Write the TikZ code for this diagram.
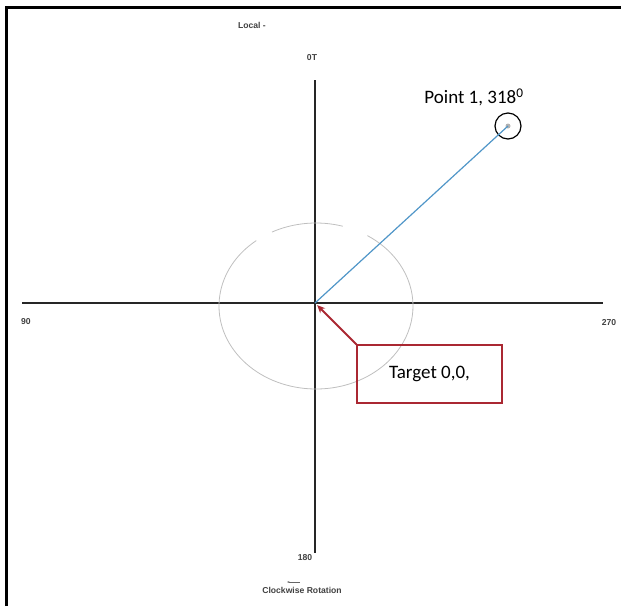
\documentclass[tikz,border=0pt]{standalone}
\usepackage{fontspec}
\setmainfont{Carlito}
\newfontfamily\axisfont{Liberation Sans}
\usetikzlibrary{arrows.meta}
\definecolor{sketchRay}{RGB}{80,150,200}
\definecolor{sketchNote}{RGB}{170,40,50}
\begin{document}
\begin{tikzpicture}[x=1pt, y=1pt,
  axislbl/.style={font=\axisfont\bfseries\fontsize{8.6}{9}\selectfont, text=black!75, inner sep=0pt},
  calloutlbl/.style={font=\fontsize{19}{22}\selectfont, inner sep=0pt},
  ring/.style={draw=\sketchRingColor, line width=\sketchRingWidth},
  axisline/.style={draw=\sketchAxisColor, line width=\sketchAxisWidth}]
% Polar sketch, positions taken in pixels (y negative)
\def\rx{97}
\def\ry{83}
\providecommand{\sketchAxisColor}{black!85}
\providecommand{\sketchRingColor}{black!25}
\providecommand{\sketchAxisWidth}{2pt}
\providecommand{\sketchRingWidth}{0.8pt}
\useasboundingbox (0,0) rectangle (621,-606);
% Frame, top and left edges only
\draw[line width=3pt] (6.5,-606) -- (6.5,-7.5) -- (621,-7.5);
% Axes
\coordinate (O) at (315,-303);
\coordinate (north) at (315,-80);
\coordinate (south) at (315,-553);
\coordinate (west) at (22,-303);
\coordinate (east) at (603,-303);
\draw[axisline] (north) -- (south);
\draw[axisline] (west) -- (east);
% Broken ring round the target
\coordinate (ringc) at (316,-306);
\draw[ring] (ringc) ++(74:\rx\space and \ry) arc[start angle=74, end angle=117, x radius=\rx, y radius=\ry];
\draw[ring] (ringc) ++(128:\rx\space and \ry) arc[start angle=128, end angle=418, x radius=\rx, y radius=\ry];
% Point 1
\node[draw=black, circle, line width=1.2pt, minimum size=26, inner sep=0pt] (p1) at (508,-126) {};
\fill[black!30] (p1.center) circle (2.5);
\draw[sketchRay, line width=1.2pt] (O) -- (p1.center);
\node[calloutlbl, anchor=south] (p1lbl) at (474,-106) {Point 1, 318\textsuperscript{0}};
% Target call-out
\node[draw=sketchNote, line width=1.2pt, minimum width=145, minimum height=58, calloutlbl] (target) at (429.5,-374) {Target 0,0,};
\draw[sketchNote, line width=1.8pt, -{Stealth[length=8pt, width=7pt]}, shorten >=3pt] (target.north west) -- (O);
% Axis labels
\node[axislbl] (lbl0) at (312,-58) {0T};
\node[axislbl] (lbl90) at (26,-322) {90};
\node[axislbl] (lbl180) at (305,-558) {180};
\node[axislbl] (lbl270) at (609,-323) {270};
\node[axislbl] (lbllocal) at (252,-25) {Local -};
\node[axislbl] (lblcw) at (302,-590) {Clockwise Rotation};
\coordinate (cwA) at (300,-582);
\coordinate (cwB) at (287,-582);
\draw[black!60, line width=0.5pt, -{Stealth[length=2.5pt]}] (cwA) -- (cwB);
\end{tikzpicture}
\end{document}
